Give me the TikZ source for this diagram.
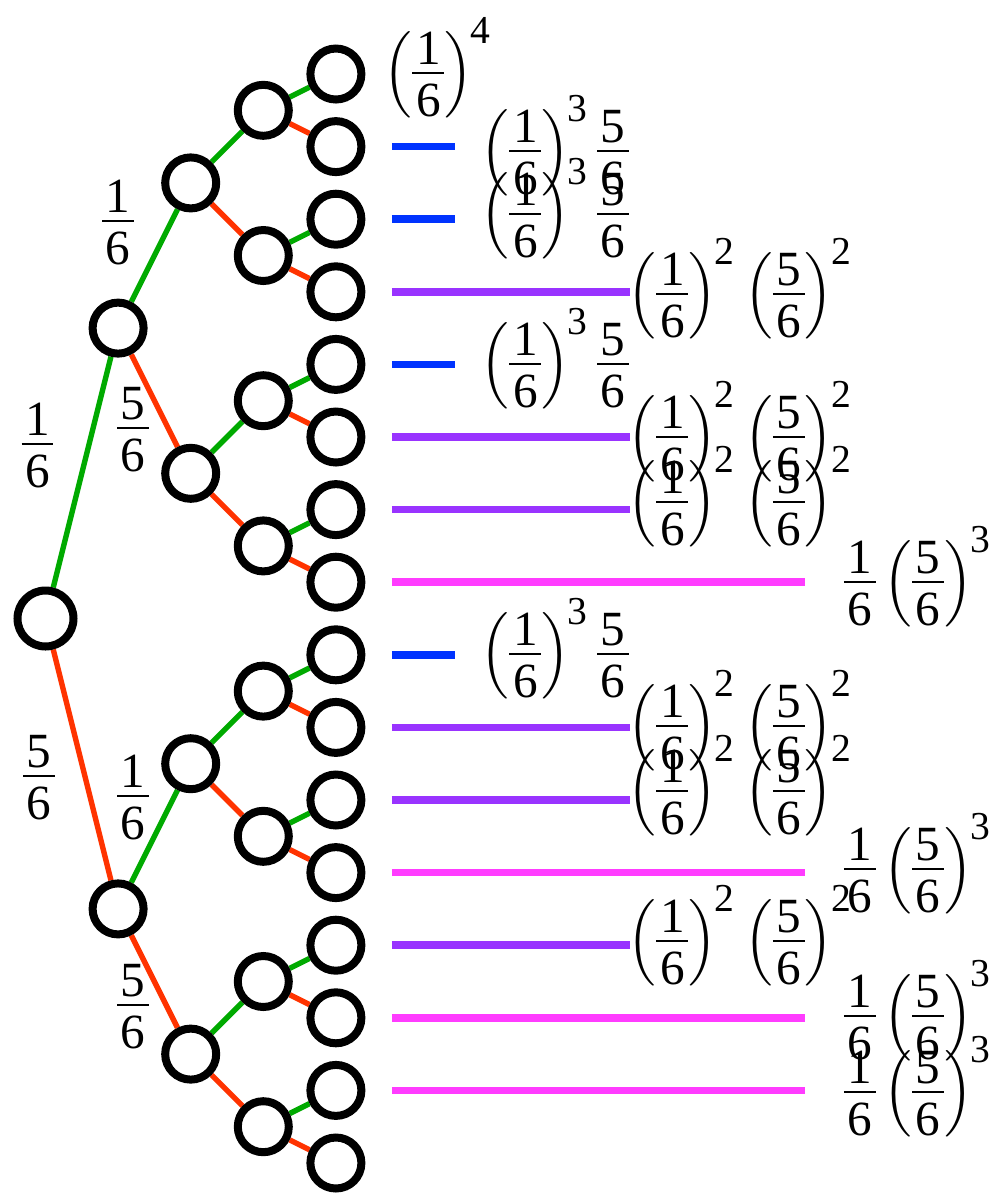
\documentclass[tikz,border=0pt]{standalone}
\usepackage{amsmath}
\usepackage{fontspec}
\setmainfont{Liberation Serif}
\usetikzlibrary{backgrounds}
\definecolor{tgreen}{RGB}{0,170,0}
\definecolor{tred}{RGB}{255,51,0}
\definecolor{tblue}{RGB}{0,51,255}
\definecolor{tpurple}{RGB}{153,51,255}
\definecolor{tmag}{RGB}{255,60,255}
\newcommand{\myfr}[2]{\mathinner{\vcenter{\offinterlineskip\halign{\hfil\kern0.9pt##\kern0.9pt\hfil\cr\mbox{#1}\cr\noalign{\kern1.75pt\hrule height0.5pt\kern2.5pt}\mbox{#2}\cr}}}}
\newcommand{\myex}[1]{^{\kern-0.6pt\mbox{\fontsize{9.9}{10}\selectfont#1}}}
\newcommand{\lblA}{\left(\myfr16\right)\myex4}
\newcommand{\lblB}{\left(\myfr16\right)\myex3\myfr56}
\newcommand{\lblC}{\left(\myfr16\right)\myex2\left(\myfr56\right)\myex2}
\newcommand{\lblD}{\myfr16\left(\myfr56\right)\myex3}
\begin{document}
\begin{tikzpicture}[x=0.25pt,y=-0.25pt,
  treenode/.style={circle,draw=black,line width=2pt,fill=white,minimum size=12.75pt,inner sep=0pt},
  rootnode/.style={treenode,minimum size=14pt},
  gedge/.style={draw=tgreen,line width=1.35pt},
  redge/.style={draw=tred,line width=1.35pt},
  pline/.style={line width=1.9pt},
  prob/.style={inner sep=0pt,anchor=base west,font=\fontsize{12.3}{15}\selectfont},
  elab/.style={inner sep=0pt,anchor=base,font=\fontsize{12.3}{15}\selectfont}]
\useasboundingbox (0,0) rectangle (994,1193);
% tree nodes
\node[rootnode] (n0-0) at (45.5,618.5) {};
\foreach \k/\cnt in {1/2,2/4,3/8,4/16} {
  \pgfmathsetmacro{\stp}{2^(4-\k)}
  \pgfmathtruncatemacro{\last}{\cnt-1}
  \pgfmathsetmacro{\xx}{45.5+72.6*\k}
  \foreach \j in {0,...,\last} {
    \pgfmathsetmacro{\yy}{74+72.6*(\stp*\j+(\stp-1)/2)}
    \node[treenode] (n\k-\j) at (\xx,\yy) {};
  }
}
% edges
\begin{scope}[on background layer]
\foreach \k/\last in {0/0,1/1,2/3,3/7} {
  \pgfmathtruncatemacro{\kk}{\k+1}
  \foreach \j in {0,...,\last} {
    \pgfmathtruncatemacro{\ca}{2*\j}
    \pgfmathtruncatemacro{\cb}{2*\j+1}
    \draw[gedge] (n\k-\j) -- (n\kk-\ca);
    \draw[redge] (n\k-\j) -- (n\kk-\cb);
  }
}
\end{scope}
% edge labels
\node[elab] (e1) at (37.5,457.5) {$\myfr16$};
\node[elab] (e2) at (39,789.5) {$\myfr56$};
\node[elab] (e3) at (118,234.5) {$\myfr16$};
\node[elab] (e4) at (133,441.5) {$\myfr56$};
\node[elab] (e5) at (133,809.5) {$\myfr16$};
\node[elab] (e6) at (133,1018.5) {$\myfr56$};
% probability bars
\foreach \i/\c/\len in {1/tblue/63,2/tblue/63,4/tblue/63,8/tblue/63,
  3/tpurple/238,5/tpurple/238,6/tpurple/238,9/tpurple/238,10/tpurple/238,12/tpurple/238,
  7/tmag/413,11/tmag/413,13/tmag/413,14/tmag/413}
  \draw[pline,draw=\c] ([xshift=14pt]n4-\i.center) -- ++(\len,0);
% probability labels
\node[prob] (p0) at (383,86.5) {$\lblA$};
\node[prob] (p1) at (480,164.5) {$\lblB$};
\node[prob] (p2) at (480,227.5) {$\lblB$};
\node[prob] (p3) at (627,307.5) {$\lblC$};
\node[prob] (p4) at (480,377.5) {$\lblB$};
\node[prob] (p5) at (627,450.5) {$\lblC$};
\node[prob] (p6) at (627,515.5) {$\lblC$};
\node[prob] (p7) at (843,595.5) {$\lblD$};
\node[prob] (p8) at (480,667.5) {$\lblB$};
\node[prob] (p9) at (627,739.5) {$\lblC$};
\node[prob] (p10) at (627,804.5) {$\lblC$};
\node[prob] (p11) at (843,882.5) {$\lblD$};
\node[prob] (p12) at (627,954.5) {$\lblC$};
\node[prob] (p13) at (843,1029.5) {$\lblD$};
\node[prob] (p14) at (843,1105.5) {$\lblD$};
\end{tikzpicture}
\end{document}
